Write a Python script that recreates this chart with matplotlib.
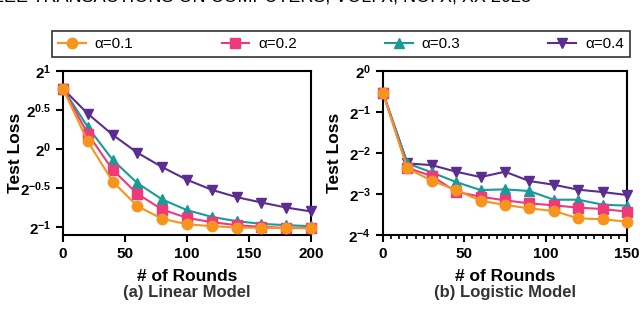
import numpy as np
import matplotlib
matplotlib.use("Agg")
import matplotlib.pyplot as plt
from matplotlib.ticker import FixedLocator, MultipleLocator

plt.rcParams['font.family'] = ['Liberation Sans', 'DejaVu Sans']
plt.rcParams['mathtext.fontset'] = 'custom'
plt.rcParams['mathtext.rm'] = 'Liberation Sans:bold'
plt.rcParams['mathtext.bf'] = 'Liberation Sans:bold'
plt.rcParams['mathtext.it'] = 'Liberation Sans:bold'

# 数据：纵轴为 log2(Test Loss)
labels = ["α=0.1", "α=0.2", "α=0.3", "α=0.4"]
colors = ["#F7941D", "#EE3A7C", "#1A9A98", "#5C2D91"]
markers = ["o", "s", "^", "v"]

rounds_lin = [0, 20, 40, 60, 80, 100, 120, 140, 160, 180, 200]
lin_a1 = [0.773, 0.098, -0.415, -0.731, -0.893, -0.962, -0.987, -1.004, -1.009, -1.013, -1.013]
lin_a2 = [0.773, 0.197, -0.265, -0.573, -0.774, -0.880, -0.936, -0.974, -0.996, -1.009, -1.009]
lin_a3 = [0.773, 0.282, -0.137, -0.436, -0.645, -0.782, -0.868, -0.923, -0.957, -0.974, -0.987]
lin_a4 = [0.773, 0.453, 0.184, -0.047, -0.231, -0.393, -0.521, -0.615, -0.684, -0.748, -0.799]

rounds_log = [0, 15, 30, 45, 60, 75, 90, 105, 120, 135, 150]
log_a1 = [-0.535, -2.376, -2.676, -2.904, -3.163, -3.268, -3.350, -3.414, -3.593, -3.617, -3.674]
log_a2 = [-0.535, -2.360, -2.563, -2.944, -3.066, -3.155, -3.228, -3.277, -3.333, -3.366, -3.431]
log_a3 = [-0.535, -2.255, -2.474, -2.709, -2.904, -2.887, -2.928, -3.139, -3.139, -3.260, -3.285]
log_a4 = [-0.535, -2.255, -2.295, -2.457, -2.587, -2.457, -2.684, -2.774, -2.895, -2.952, -3.025]

lin_ticks = [-1, -0.5, 0, 0.5, 1]
log_ticks = [-4, -3, -2, -1, 0]


def draw(ax, x, series, xmax, yticks, ylim):
    # 从 alpha=0.4 开始画，让 alpha=0.1 在最上层
    for i in range(3, -1, -1):
        y = np.power(2.0, series[i])
        ax.plot(x, y, color=colors[i], marker=markers[i], markersize=7.5,
                linewidth=1.5, label=labels[i], clip_on=False, zorder=3 + (3 - i))
    ax.set_yscale('log', base=2)
    ax.set_xlim(0, xmax)
    ax.set_ylim(2.0 ** ylim[0], 2.0 ** ylim[1])
    ax.yaxis.set_major_locator(FixedLocator([2.0 ** t for t in yticks]))
    ax.yaxis.set_minor_locator(FixedLocator([]))
    ax.set_yticklabels(['$2^{%g}$' % t for t in yticks])
    ax.xaxis.set_major_locator(MultipleLocator(50))
    ax.set_xlabel("# of Rounds", fontsize=12.5, fontweight='bold', labelpad=6)
    ax.set_ylabel("Test Loss", fontsize=12.5, fontweight='bold')
    for sp in ax.spines.values():
        sp.set_linewidth(1.5)
    ax.tick_params(axis='both', which='major', direction='out', width=1.5, length=5,
                   labelsize=11)


fig = plt.figure(figsize=(6.4, 3.13), dpi=100)
ax1 = fig.add_axes([63 / 640, 78 / 313, 248 / 640, 164 / 313])
ax2 = fig.add_axes([383 / 640, 78 / 313, 244 / 640, 164 / 313])

draw(ax1, rounds_lin, [lin_a1, lin_a2, lin_a3, lin_a4], 200, lin_ticks, (-1.1, 1))
draw(ax2, rounds_log, [log_a1, log_a2, log_a3, log_a4], 150, log_ticks, (-4, 0))
ax2.xaxis.set_minor_locator(MultipleLocator(5))
ax2.tick_params(axis='x', which='minor', direction='out', width=1.2, length=3)

ax1.yaxis.set_label_coords(-0.16, 0.5)
ax2.yaxis.set_label_coords(-0.17, 0.5)

for ax in (ax1, ax2):
    for lab in ax.get_xticklabels():
        lab.set_fontweight('bold')

fig.text(63 / 640 + 124 / 640, 20 / 313, "(a) Linear Model", ha='center', va='center',
         fontsize=12, fontweight='bold', color='#333333')
fig.text(383 / 640 + 122 / 640, 20 / 313, "(b) Logistic Model", ha='center', va='center',
         fontsize=12, fontweight='bold', color='#333333')

# 页眉（被截掉一半）
fig.text(-0.02, 312 / 313, "IEEE TRANSACTIONS ON COMPUTERS, VOL. X, NO. X, XX 2023",
         ha='left', va='baseline', fontsize=13, color='black')

handles, labs = ax1.get_legend_handles_labels()
order = [3, 2, 1, 0]
leg = fig.legend([handles[i] for i in order], [labs[i] for i in order],
                 loc='lower left', ncol=4, mode='expand',
                 bbox_to_anchor=(52 / 640, 256 / 313, 578 / 640, 25 / 313),
                 frameon=True, fancybox=False, edgecolor='black', fontsize=11,
                 handlelength=1.8, borderaxespad=0, borderpad=0.4, handletextpad=0.6)
leg.get_frame().set_linewidth(1.2)

fig.savefig("out.png", dpi=100)
